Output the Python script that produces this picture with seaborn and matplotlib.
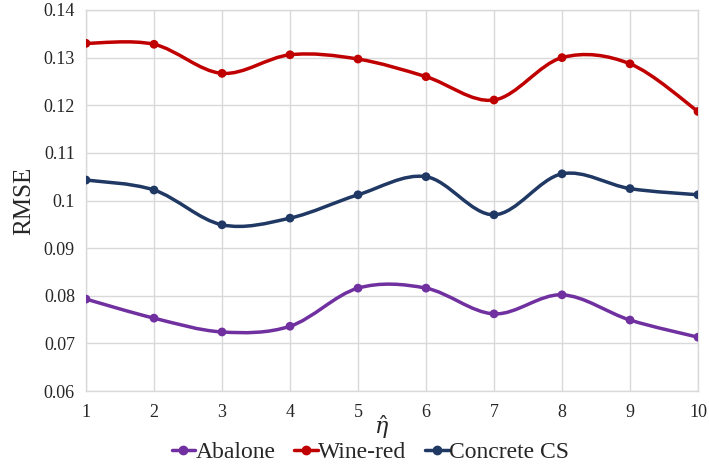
import numpy as np
import pandas as pd
import matplotlib
matplotlib.use("Agg")
import matplotlib.pyplot as plt
from matplotlib.path import Path
from matplotlib.patches import PathPatch
from matplotlib.lines import Line2D
import seaborn as sns

# RMSE per eta-hat setting
eta = [1, 2, 3, 4, 5, 6, 7, 8, 9, 10]
abalone = [0.0793, 0.0753, 0.0724, 0.0736, 0.0816, 0.0816, 0.0762, 0.0802, 0.0749, 0.0713]
wine_red = [0.1330, 0.1328, 0.1267, 0.1306, 0.1297, 0.1260, 0.1211, 0.1300, 0.1287, 0.1187]
concrete_cs = [0.1043, 0.1022, 0.0949, 0.0963, 0.1012, 0.1050, 0.0970, 0.1056, 0.1025, 0.1012]

series_names = ["Abalone", "Wine-red", "Concrete CS"]
series_colors = ["#7030A0", "#C00000", "#203864"]
y_ticks = [0.06, 0.07, 0.08, 0.09, 0.10, 0.11, 0.12, 0.13, 0.14]
y_tick_labels = ["0.06", "0.07", "0.08", "0.09", "0.1", "0.11", "0.12", "0.13", "0.14"]

df = pd.DataFrame({
    "eta": eta * 3,
    "rmse": abalone + wine_red + concrete_cs,
    "dataset": [n for n in series_names for _ in eta],
})

sns.set_style("white")
plt.rcParams["font.family"] = ["Liberation Serif", "DejaVu Serif"]
plt.rcParams["mathtext.fontset"] = "dejavuserif"

fig = plt.figure(figsize=(7.09, 4.65), dpi=100)
ax = fig.add_axes([0.1213, 0.1591, 0.8632, 0.8194])


def smooth_path(xs, ys):
    """Cubic Bezier path through the points (Catmull-Rom style tangents)."""
    pts = np.column_stack([xs, ys]).astype(float)
    n = len(pts)
    verts = [pts[0]]
    codes = [Path.MOVETO]
    for i in range(n - 1):
        p0 = pts[i - 1] if i > 0 else pts[i]
        p1 = pts[i]
        p2 = pts[i + 1]
        p3 = pts[i + 2] if i + 2 < n else pts[i + 1]
        c1 = p1 + (p2 - p0) / 6.0
        c2 = p2 - (p3 - p1) / 6.0
        verts += [c1, c2, p2]
        codes += [Path.CURVE4] * 3
    return Path(verts, codes)


for name, color in zip(series_names, series_colors):
    sub = df[df["dataset"] == name]
    ax.add_patch(PathPatch(smooth_path(sub["eta"].values, sub["rmse"].values),
                           facecolor="none", edgecolor=color, lw=2.5,
                           capstyle="round", joinstyle="round", zorder=3))

sns.scatterplot(data=df, x="eta", y="rmse", hue="dataset", hue_order=series_names,
                palette=series_colors, s=40, edgecolor="none", legend=False,
                ax=ax, zorder=4)

ax.set_xlim(1, 10)
ax.set_ylim(0.06, 0.14)
ax.set_xticks(eta)
ax.set_xticklabels([str(v) for v in eta], fontsize=13)
ax.set_yticks(y_ticks)
ax.set_yticklabels(y_tick_labels, fontsize=13)
ax.tick_params(axis="x", length=0, pad=9)
ax.tick_params(axis="y", length=0, pad=8)
ax.grid(True, color="#d9d9d9", lw=1.0)
ax.set_axisbelow(True)
for sp in ax.spines.values():
    sp.set_color("#d9d9d9")
    sp.set_linewidth(1.0)

ax.set_ylabel("RMSE", fontsize=18, labelpad=6)
ax.set_xlabel("")
fig.text(382 / 709, 1 - 427 / 465, r"$\hat{\eta}$", fontsize=16,
         ha="center", va="center")

handles = [Line2D([0], [0], color=c, lw=2.5, marker="o", markersize=6)
           for c in series_colors]
fig.legend(handles, series_names, loc="center", ncol=3, frameon=False,
           fontsize=17, bbox_to_anchor=(0.522, 1 - 452 / 465), handlelength=1.0,
           handletextpad=0.0, columnspacing=0.8, borderpad=0.0)

fig.savefig("out.png", dpi=100)
